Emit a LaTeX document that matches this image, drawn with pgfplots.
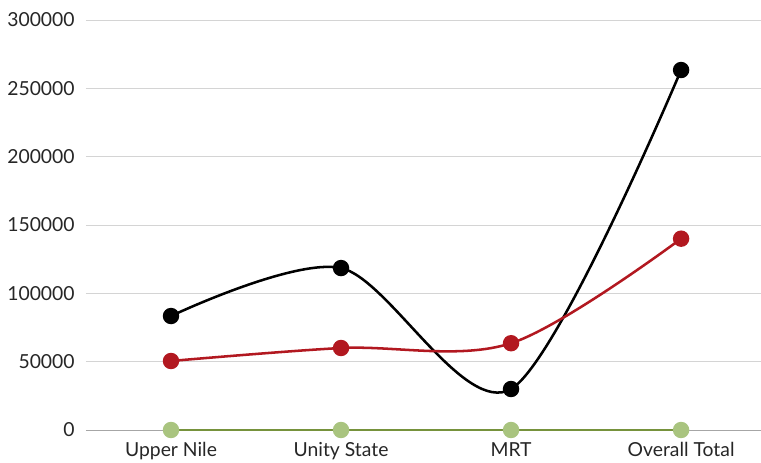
\documentclass[border=0pt]{standalone}
\usepackage{pgfplots}
\pgfplotsset{compat=1.18}
\usepackage{fontspec}
\setmainfont{Lato}
\definecolor{gridgray}{RGB}{212,212,212}
\definecolor{axisgray}{RGB}{166,166,166}
\definecolor{redser}{RGB}{178,24,32}
\definecolor{greenline}{RGB}{118,146,60}
\definecolor{greenmark}{RGB}{169,196,127}
\begin{document}
\begin{tikzpicture}
\begin{axis}[
  name=ax,
  at={(0,0)}, anchor=south west,
  scale only axis,
  width=506.25pt, height=307.5pt,
  xmin=-0.5, xmax=3.47,
  ymin=0, ymax=300000,
  xtick={0,1,2,3},
  xticklabels={Upper Nile,Unity State,MRT,Overall Total},
  ytick={0,50000,100000,150000,200000,250000,300000},
  yticklabels={0,50000,100000,150000,200000,250000,300000},
  scaled y ticks=false,
  axis x line*=bottom,
  axis y line*=left,
  y axis line style={draw=none},
  ymajorgrids,
  grid style={gridgray, line width=0.75pt},
  x axis line style={axisgray, line width=0.75pt, -},
  major tick length=0pt,
  tick style={draw=none},
  font=\fontsize{14.5}{17}\selectfont,
  ticklabel style={font=\fontsize{14.5}{17}\selectfont, text=black!85},
  yticklabel style={xshift=-5pt},
  xticklabel style={yshift=-6pt},
  clip=false,
]
\addplot[black, line width=1.9pt, smooth, tension=0.5, mark=*, mark size=5.2pt, mark options={solid, fill=black}]
  coordinates {(0,83400) (1,118500) (2,30000) (3,263400)};
\addplot[redser, line width=1.9pt, smooth, tension=0.55, mark=*, mark size=5.2pt, mark options={solid, fill=redser, draw=redser}]
  coordinates {(0,50500) (1,60000) (2,63500) (3,140000)};
\addplot[greenline, line width=1.9pt, smooth, mark=*, mark size=5.2pt, mark options={solid, fill=greenmark, draw=greenmark}]
  coordinates {(0,0) (1,0) (2,0) (3,0)};
\end{axis}
\pgfresetboundingbox
\path[use as bounding box] (-64.5pt,-24pt) rectangle (506.25pt,322.5pt);
\end{tikzpicture}
\end{document}
